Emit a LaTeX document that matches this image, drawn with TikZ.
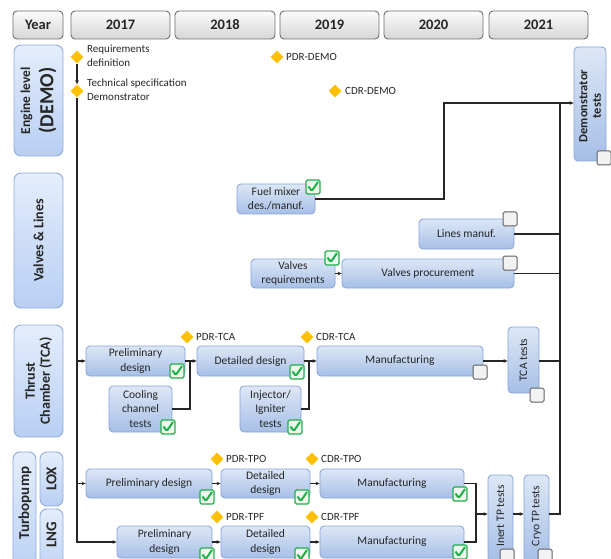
\documentclass[tikz,border=0pt]{standalone}
\usepackage{fontspec}
\setmainfont{Carlito}
\usetikzlibrary{arrows.meta,shapes.geometric}
\definecolor{taskt}{HTML}{DDE7F6}
\definecolor{taskbot}{HTML}{A6BFE6}
\definecolor{taskb}{HTML}{86A3D6}
\definecolor{rowt}{HTML}{E4EDFC}
\definecolor{rowbot}{HTML}{B8CFF3}
\definecolor{rowb}{HTML}{8FACDC}
\definecolor{hdrb}{HTML}{6E6E6E}
\definecolor{okgreen}{HTML}{1FB04A}
\definecolor{okfill}{HTML}{EEF6EE}
\definecolor{msfill}{HTML}{FFC000}
\definecolor{lncol}{HTML}{262626}
\newcommand\bx[7]{\node[#1,minimum width={(#5-#3)*1pt},minimum height={(#6-#4)*1pt}] (#2) at ({(#3+#5)/2},{(#4+#6)/2}) {#7};}
\begin{document}
\begin{tikzpicture}[x=1pt,y=-1pt,
  hdr/.style={draw=hdrb,line width=0.9pt,rounded corners=4pt,top color=gray!3,bottom color=gray!32,inner sep=0pt,font=\bfseries\fontsize{14.5}{16}\selectfont,text=black!85},
  rowl/.style={draw=rowb,line width=0.9pt,rounded corners=7pt,top color=rowt,bottom color=rowbot,inner sep=0pt},
  rowt/.style={rotate=90,align=center,font=\bfseries\fontsize{14}{15}\selectfont,text=black!85},
  task/.style={draw=taskb,line width=0.8pt,rounded corners=4pt,top color=taskt,bottom color=taskbot,inner sep=0pt,align=center,font=\fontsize{11.5}{14.5}\selectfont,text=black!85},
  vt/.style={rotate=90,align=center,font=\fontsize{11.5}{13}\selectfont,text=black!85},
  ms/.style={diamond,fill=msfill,minimum size=13pt,inner sep=0pt},
  mst/.style={anchor=west,align=left,inner sep=0pt,font=\fontsize{11}{14}\selectfont,text=black!85},
  ok/.style={draw=okgreen,line width=1.2pt,fill=okfill,rounded corners=1.5pt,minimum size=14pt,inner sep=0pt,
    path picture={\draw[okgreen,line width=2pt] ([shift={(-4.5pt,0.5pt)}]path picture bounding box.center) -- ([shift={(-1.2pt,-4pt)}]path picture bounding box.center) -- ([shift={(5pt,5pt)}]path picture bounding box.center);}},
  no/.style={draw=gray!75!black,line width=1pt,fill=gray!10,rounded corners=1.5pt,minimum size=14pt,inner sep=0pt},
  ln/.style={draw=lncol,line width=1.3pt},
  arr/.style={ln,-{Stealth[length=4pt,width=3.6pt]}}]
\useasboundingbox (0,0) rectangle (611,559);
\clip (0,0) rectangle (611,559);
% header
\bx{hdr}{hY}{13}{11}{63}{39}{Year}
\bx{hdr}{h17}{71}{11}{170}{39}{2017}
\bx{hdr}{h18}{175}{11}{275}{39}{2018}
\bx{hdr}{h19}{280}{11}{379}{39}{2019}
\bx{hdr}{h20}{384}{11}{483}{39}{2020}
\bx{hdr}{h21}{489}{11}{588}{39}{2021}
% row labels
\bx{rowl}{lEng}{14}{45}{63}{156}{}
\node[rowt] (tEng) at (lEng) {{\fontsize{13.5}{14}\selectfont Engine level}\\[5pt]{\fontsize{20}{21}\selectfont (DEMO)}};
\bx{rowl}{lVal}{14}{173}{63}{308}{}
\node[rowt] (tVal) at (lVal) {Valves \& Lines};
\bx{rowl}{lTCA}{14}{325}{63}{437}{}
\node[rowt] (tTCA) at (lTCA) {Thrust\\Chamber (TCA)};
\bx{rowl}{lTP}{13}{452}{36}{580}{}
\node[rowt,font=\bfseries\fontsize{15}{16}\selectfont] (tTP) at (25,503) {Turbopump};
\bx{rowl}{lLOX}{40}{452}{63}{506}{}
\node[rowt,font=\bfseries\fontsize{15}{16}\selectfont] (tLOX) at (lLOX) {LOX};
\bx{rowl}{lLNG}{40}{509}{63}{580}{}
\node[rowt,font=\bfseries\fontsize{15}{16}\selectfont] (tLNG) at (51.5,535) {LNG};
% milestones
\node[ms] (mReq) at (77,57) {};
\node[mst] (tReq) at (87,55.5) {Requirements\\definition};
\node[ms] (mTech) at (77,91) {};
\node[mst] (tTech) at (87,90) {Technical specification\\Demonstrator};
\node[ms] (mPDRd) at (277,57) {};
\node[mst] (tPDRd) at (286,57) {PDR-DEMO};
\node[ms] (mCDRd) at (335,91) {};
\node[mst] (tCDRd) at (345,91) {CDR-DEMO};
\node[ms] (mPDRt) at (187,337) {};
\node[mst] (tPDRt) at (196,337) {PDR-TCA};
\node[ms] (mCDRt) at (307,337) {};
\node[mst] (tCDRt) at (316,337) {CDR-TCA};
\node[ms] (mPDRo) at (217,459) {};
\node[mst] (tPDRo) at (226,459) {PDR-TPO};
\node[ms] (mCDRo) at (312,459) {};
\node[mst] (tCDRo) at (321,459) {CDR-TPO};
\node[ms] (mPDRf) at (217,517) {};
\node[mst] (tPDRf) at (226,517) {PDR-TPF};
\node[ms] (mCDRf) at (312,517) {};
\node[mst] (tCDRf) at (321,517) {CDR-TPF};
% engine / valves
\bx{task}{demo}{574}{47}{606}{161}{}
\node[vt,font=\bfseries\fontsize{12.5}{13.5}\selectfont] (tDemo) at (590,106) {Demonstrator\\tests};
\node[no] (cDemo) at (604,158) {};
\bx{task}{fuel}{237}{184}{315}{214}{Fuel mixer\\des./manuf.}
\node[ok] (cFuel) at (313,187) {};
\bx{task}{lines}{419}{219}{514}{249}{Lines manuf.}
\node[no] (cLines) at (510,219) {};
\bx{task}{vreq}{251}{259}{335}{288}{Valves\\requirements}
\node[ok] (cVreq) at (332,258) {};
\bx{task}{vproc}{342}{259}{514}{288}{Valves procurement}
\node[no] (cVproc) at (510,263) {};
% TCA
\bx{task}{tPre}{86}{346}{185}{376}{Preliminary\\design}
\node[ok] (ctPre) at (177,371) {};
\bx{task}{tDet}{197}{346}{304}{376}{Detailed design}
\node[ok] (ctDet) at (297,372) {};
\bx{task}{cool}{109}{386}{172}{432}{Cooling\\channel\\tests}
\node[ok] (cCool) at (168,427) {};
\bx{task}{inj}{240}{386}{301}{432}{Injector/\\Igniter\\tests}
\node[ok] (cInj) at (295,427) {};
\bx{task}{tMan}{317}{346}{483}{376}{Manufacturing}
\node[no] (ctMan) at (480,372) {};
\bx{task}{tcaT}{508}{327}{539}{393}{}
\node[vt] (ttcaT) at (tcaT) {TCA tests};
\node[no] (ctcaT) at (537,395) {};
% Turbopump LOX
\bx{task}{oPre}{86}{469}{212}{498}{Preliminary design}
\node[ok] (coPre) at (207,497) {};
\bx{task}{oDet}{221}{469}{310}{498}{Detailed\\design}
\node[ok] (coDet) at (302,497) {};
\bx{task}{oMan}{320}{469}{464}{498}{Manufacturing}
\node[ok] (coMan) at (460,494) {};
% Turbopump LNG
\bx{task}{fPre}{117}{526}{212}{558}{Preliminary\\design}
\node[ok] (cfPre) at (207,555) {};
\bx{task}{fDet}{221}{526}{310}{558}{Detailed\\design}
\node[ok] (cfDet) at (302,555) {};
\bx{task}{fMan}{320}{526}{464}{558}{Manufacturing}
\node[ok] (cfMan) at (460,552) {};
\bx{task}{inert}{488}{475}{513}{562}{}
\node[vt] (tinert) at (500.5,516) {Inert TP tests};
\node[no] (cinert) at (507,556) {};
\bx{task}{cryo}{524}{475}{549}{562}{}
\node[vt] (tcryo) at (536.5,516) {Cryo TP tests};
\node[no] (ccryo) at (545,556) {};
% junction coordinates
\coordinate (rTop) at (560,103);
\coordinate (fC) at (444,103);
\coordinate (jC) at (190,361);
\coordinate (jI) at (309,361);
\coordinate (jTP) at (476,514);
% connectors
\draw[arr] (mReq) -- (mTech);
\draw[arr] (mTech) |- (fPre.west);
\draw[arr] (tPre.west -| mTech) -- (tPre.west);
\draw[arr] (oPre.west -| mTech) -- (oPre.west);
\draw[arr] (tPre) -- (tDet);
\draw[ln] (cool.east) -| (jC);
\draw[arr] (tDet) -- (tMan);
\draw[ln] (inj.east) -| (jI);
\draw[arr] (tMan.east) -- (tMan.east -| tcaT.west);
\draw[ln] (tcaT.east |- tMan.east) -- (tMan.east -| rTop);
\draw[arr] (vreq) -- (vproc);
\draw[ln] (lines.east) -- (lines.east -| rTop);
\draw[ln] (vproc.east) -- (vproc.east -| rTop);
\draw[ln] (fuel.east) -| (fC) -- (rTop);
\draw[arr] (rTop) -- (rTop -| demo.west);
\draw[arr] (oPre) -- (oDet);
\draw[arr] (oDet) -- (oMan);
\draw[arr] (fPre) -- (fDet);
\draw[arr] (fDet) -- (fMan);
\draw[ln] (oMan.east) -| (jTP);
\draw[ln] (fMan.east) -| (jTP);
\draw[arr] (jTP) -- (jTP -| inert.west);
\draw[arr] (inert.east |- jTP) -- (cryo.west |- jTP);
\draw[ln] (cryo.east |- jTP) -| (rTop);
\end{tikzpicture}
\end{document}
